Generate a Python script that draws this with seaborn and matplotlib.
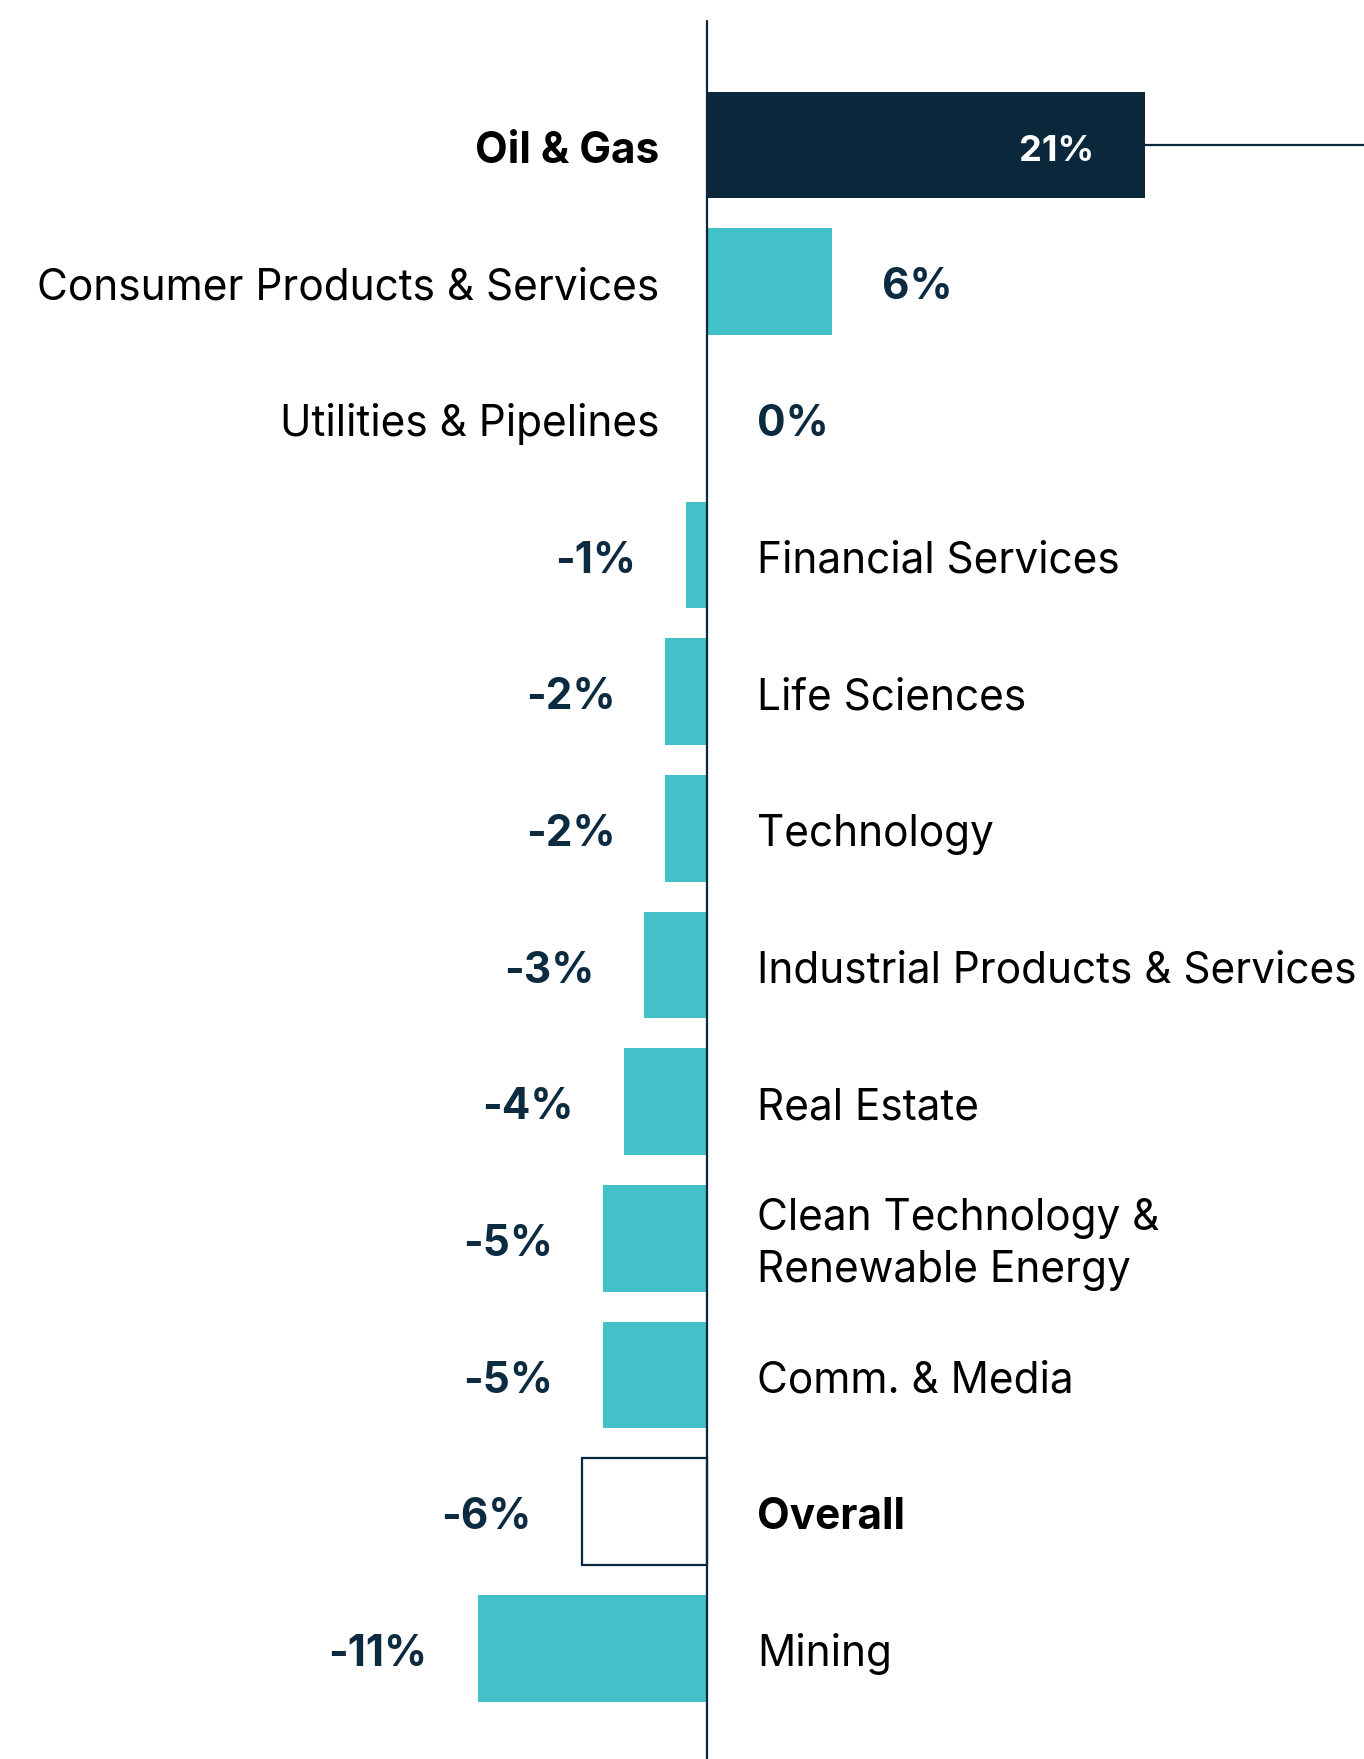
import numpy as np
import pandas as pd
import seaborn as sb
from matplotlib import pyplot as plt

# data
sectors = ["Oil & Gas", "Consumer Products & Services", "Utilities & Pipelines",
           "Financial Services", "Life Sciences", "Technology",
           "Industrial Products & Services", "Real Estate",
           "Clean Technology &\nRenewable Energy", "Comm. & Media",
           "Overall", "Mining"]
changes = [21, 6, 0, -1, -2, -2, -3, -4, -5, -5, -6, -11]
value_labels = ["21%", "6%", "0%", "-1%", "-2%", "-2%", "-3%", "-4%",
                "-5%", "-5%", "-6%", "-11%"]

NAVY = "#0b273b"
TEAL = "#43c1c9"
TXT = "#0d2b40"

sb.set_style("white")
plt.rcParams['font.family'] = ['Inter', 'DejaVu Sans']

df = pd.DataFrame({"sector": sectors, "change": changes})
colors = {s: TEAL for s in sectors}
colors["Oil & Gas"] = NAVY
colors["Overall"] = "white"

fig = plt.figure(figsize=(13.64, 17.59), dpi=100)
ax = fig.add_axes([0, 0, 1, 1])
sb.barplot(data=df, x="change", y="sector", hue="sector", palette=colors,
           orient="h", width=0.78, legend=False, ax=ax, saturation=1)

# outlined overall bar
for i, p in enumerate(ax.patches):
    p.set_linewidth(0)
    if sectors[i] == "Overall":
        p.set_edgecolor(NAVY)
        p.set_linewidth(1.6)

xmin, xmax = -33.9, 31.5
ax.set_xlim(xmin, xmax)
ax.set_ylim(11.81, -1.06)

# zero axis and tail line for the top bar
ax.plot([0, 0], [-0.91, 11.81], color=NAVY, lw=1.6, zorder=5)
ax.plot([changes[0], xmax], [0, 0], color=NAVY, lw=1.6, zorder=1)

fs = 30.5
dy = 0.045
for i, (s, v, lab) in enumerate(zip(sectors, changes, value_labels)):
    bold = s in ("Oil & Gas", "Overall")
    w = "bold" if bold else "normal"
    y = i + dy
    if v >= 0:
        ax.text(-2.3, y, s, ha="right", va="center", fontsize=fs,
                fontweight=w, color="black")
        if i == 0:
            ax.text(v - 2.45, y, lab, ha="right", va="center", fontsize=26,
                    fontweight="bold", color="white")
        else:
            ax.text(v + 2.4, y, lab, ha="left", va="center", fontsize=fs,
                    fontweight="bold", color=TXT)
    else:
        ax.text(2.4, y, s, ha="left", va="center", fontsize=fs,
                fontweight=w, color="black", linespacing=1.32)
        ax.text(v - 2.4, y, lab, ha="right", va="center", fontsize=fs,
                fontweight="bold", color=TXT)

ax.axis("off")
fig.savefig("out.png", dpi=100)
